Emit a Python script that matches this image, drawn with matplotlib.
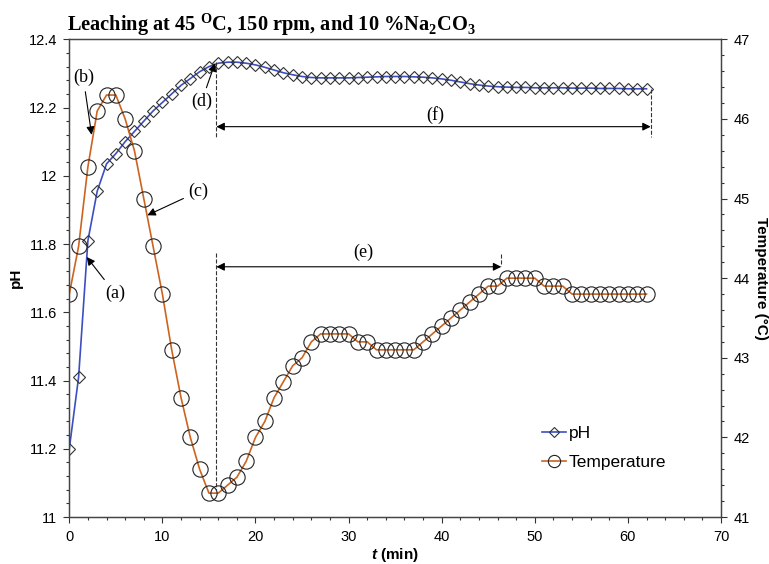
import numpy as np
import matplotlib
matplotlib.use("Agg")
import matplotlib.pyplot as plt

plt.rcParams['mathtext.fontset'] = 'custom'
plt.rcParams['mathtext.rm'] = 'Liberation Serif:bold'
plt.rcParams['mathtext.bf'] = 'Liberation Serif:bold'
plt.rcParams['mathtext.it'] = 'Liberation Sans:italic:bold'
plt.rcParams['font.family'] = 'Liberation Sans'

# datos (un punto por minuto)
t_min = list(range(63))
ph = [11.20, 11.41, 11.81, 11.955, 12.035, 12.065, 12.10, 12.13, 12.16, 12.19,
      12.215, 12.24, 12.265, 12.285, 12.305, 12.32, 12.33, 12.333, 12.333, 12.33,
      12.325, 12.318, 12.31, 12.302, 12.296, 12.291, 12.288, 12.287, 12.287, 12.287,
      12.287, 12.288, 12.289, 12.29, 12.291, 12.291, 12.291, 12.29, 12.289, 12.287,
      12.284, 12.28, 12.275, 12.27, 12.266, 12.263, 12.261, 12.26, 12.259, 12.259,
      12.258, 12.258, 12.258, 12.258, 12.257, 12.257, 12.257, 12.256, 12.256, 12.256,
      12.255, 12.255, 12.255]
temp = [43.8, 44.4, 45.4, 46.1, 46.3, 46.3, 46.0, 45.6, 45.0, 44.4,
        43.8, 43.1, 42.5, 42.0, 41.6, 41.3, 41.3, 41.4, 41.5, 41.7,
        42.0, 42.2, 42.5, 42.7, 42.9, 43.0, 43.2, 43.3, 43.3, 43.3,
        43.3, 43.2, 43.2, 43.1, 43.1, 43.1, 43.1, 43.1, 43.2, 43.3,
        43.4, 43.5, 43.6, 43.7, 43.8, 43.9, 43.9, 44.0, 44.0, 44.0,
        44.0, 43.9, 43.9, 43.9, 43.8, 43.8, 43.8, 43.8, 43.8, 43.8,
        43.8, 43.8, 43.8]

azul = '#3c4ec2'
naranja = '#cc6420'

fig = plt.figure(figsize=(7.69, 5.64), dpi=100)
ax = fig.add_axes([0.0901, 0.0833, 0.8475, 0.847])
ax2 = ax.twinx()

l1, = ax.plot(t_min, ph, '-', color=azul, lw=1.2, marker='D', markersize=6.3,
              mfc='none', mec='#333333', mew=0.8, label='pH')
l2, = ax2.plot(t_min, temp, '-', color=naranja, lw=1.2, marker='o', markersize=11,
               mfc='none', mec='#222222', mew=0.8, label='Temperature')

ax.set_xlim(0, 70)
ax.set_ylim(11, 12.4)
ax2.set_ylim(41, 47)
ax.set_xticks(np.arange(0, 71, 10))
ax.set_xticks(np.arange(0, 71, 2), minor=True)
ax.set_yticks(np.arange(11, 12.41, 0.2))
ax.set_yticks(np.arange(11, 12.41, 0.04), minor=True)
ax.set_yticklabels(['11', '11.2', '11.4', '11.6', '11.8', '12', '12.2', '12.4'])
ax2.set_yticks(np.arange(41, 47.1, 1))
ax2.set_yticks(np.arange(41, 47.01, 0.2), minor=True)

for a in (ax, ax2):
    a.tick_params(which='major', direction='out', length=4, width=0.8, labelsize=10.5,
                  color='#333333', pad=5)
    a.tick_params(which='minor', direction='out', length=2.5, width=0.8, color='#333333')
    for s in a.spines.values():
        s.set_color('#444444')
        s.set_linewidth(0.9)

ax.set_xlabel('$t$ (min)', fontsize=11, fontweight='bold', labelpad=2)
ax.set_ylabel('pH', fontsize=11, fontweight='bold', labelpad=4)
ax2.set_ylabel('Temperature (°C)', fontsize=11, fontweight='bold', rotation=270,
               va='bottom', labelpad=3)

fig.text(0.087, 1 - 31 / 564,
         r'Leaching at 45 $^{\mathbf{O}}$C, 150 rpm, and 10 %Na$_{\mathbf{2}}$CO$_{\mathbf{3}}$',
         fontsize=14.7, fontweight='bold', family='Liberation Serif', va='baseline')

# anotaciones
txt = dict(fontsize=13, family='Liberation Serif', ha='center', va='center')
flecha = dict(arrowstyle='-|>', color='black', lw=0.8, mutation_scale=12, shrinkA=2, shrinkB=0)

ax.annotate('(a)', xy=(1.87, 11.762), xytext=(4.9, 11.656), arrowprops=flecha, **txt)
ax2.annotate('(b)', xy=(2.4, 45.8), xytext=(1.5, 46.52), arrowprops=flecha, **txt)
ax2.annotate('(c)', xy=(8.38, 44.79), xytext=(13.9, 45.09), arrowprops=flecha, **txt)
ax.annotate('(d)', xy=(15.65, 12.33), xytext=(14.2, 12.217), arrowprops=flecha, **txt)

# lineas punteadas verticales
ax.plot([15.8, 15.8], [12.333, 12.113], '--', color='#333333', lw=0.8)
ax2.plot([15.8, 15.8], [44.32, 41.34], '--', color='#333333', lw=0.8)
ax.plot([62.45, 62.45], [12.255, 12.113], '--', color='#333333', lw=0.8)
ax2.plot([46.4, 46.4], [44.30, 44.15], '--', color='#333333', lw=0.8)

doble = dict(arrowstyle='<|-|>', color='black', lw=0.8, mutation_scale=12, shrinkA=0, shrinkB=0)
ax.annotate('', xy=(62.45, 12.144), xytext=(15.8, 12.144), arrowprops=doble)
ax.text(39.3, 12.178, '(f)', **txt)
ax2.annotate('', xy=(46.4, 44.143), xytext=(15.8, 44.143), arrowprops=doble)
ax2.text(31.6, 44.32, '(e)', **txt)

ax2.legend(handles=[l1, l2], loc='center left', bbox_to_anchor=(542 / 769, 1 - 448 / 564),
           bbox_transform=fig.transFigure, frameon=False, fontsize=12.5, handlelength=1.4,
           handletextpad=0.15, labelspacing=0.75, borderpad=0, borderaxespad=0,
           numpoints=1, markerscale=0.8)

fig.savefig('out.png', dpi=100)
